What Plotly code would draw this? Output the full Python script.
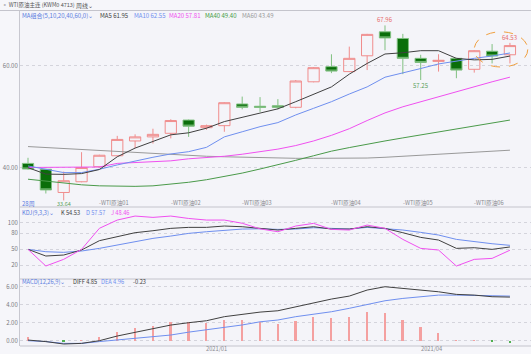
import plotly.graph_objects as go

W, H = 531, 354

# ---------------- data ----------------
weeks = list(range(28))
opens = [40.9, 39.75, 35.2, 37.3, 40.25, 42.4, 45.3, 46.1, 46.8, 49.4, 47.9, 48.3, 52.55, 52.1,
         52.2, 51.9, 56.9, 59.87, 58.9, 62.0, 66.7, 65.4, 61.5, 60.9, 61.5, 59.35, 62.9, 62.2]
highs = [42.0, 39.8, 39.3, 43.1, 42.6, 46.3, 46.6, 47.7, 49.55, 49.5, 48.5, 52.9, 54.0, 53.9,
         53.5, 57.25, 59.8, 62.3, 63.8, 66.3, 67.96, 66.3, 62.2, 62.3, 61.6, 63.1, 64.3, 64.53]
lows = [39.7, 35.0, 33.64, 37.2, 40.1, 42.3, 43.9, 44.8, 45.8, 46.1, 47.5, 47.1, 51.5, 51.0,
        51.5, 51.7, 56.8, 58.6, 58.8, 59.2, 63.1, 58.4, 57.25, 58.9, 57.6, 58.7, 60.5, 60.5]
closes = [39.8, 35.7, 37.5, 40.1, 42.5, 45.6, 46.1, 46.6, 49.3, 48.2, 48.3, 52.8, 51.9, 51.9,
          51.9, 57.06, 59.67, 59.0, 61.5, 66.2, 65.5, 61.5, 60.7, 61.1, 59.2, 63.0, 61.96, 64.0]

ma5 = [40.06, 38.8, 38.75, 38.9, 39.7, 42.2, 43.9, 45.2, 46.5, 46.9, 47.8, 49.1, 49.9, 50.7,
       51.6, 53.0, 54.5, 55.9, 58.4, 60.5, 62.35, 62.6, 63.0, 63.0, 61.5, 61.2, 61.3, 61.95]
ma10 = [40.4, 39.75, 39.1, 39.1, 39.75, 40.6, 41.4, 42.1, 42.75, 43.2, 44.05, 46.1, 47.1, 48.1,
        48.9, 50.4, 51.7, 53.0, 54.5, 55.9, 57.8, 58.6, 59.5, 60.4, 61.0, 61.5, 61.96, 62.55]
ma20 = [40.1, 40.1, 40.1, 40.1, 40.2, 40.9, 41.1, 41.25, 41.4, 41.8, 42.0, 42.3, 42.7, 43.2,
        43.7, 44.4, 45.3, 46.4, 47.7, 49.3, 50.8, 52.0, 53.0, 54.0, 55.0, 56.0, 56.9, 57.81]
ma40 = [37.8, 37.4, 37.0, 36.7, 36.5, 36.4, 36.4, 36.5, 36.8, 37.2, 37.7, 38.3, 39.0, 39.8,
        40.6, 41.5, 42.4, 43.3, 44.0, 44.7, 45.3, 45.9, 46.5, 47.0, 47.6, 48.2, 48.8, 49.4]
ma60 = [44.2, 44.0, 43.8, 43.6, 43.4, 43.2, 43.0, 42.8, 42.6, 42.5, 42.3, 42.2, 42.1, 42.0,
        41.95, 41.9, 41.9, 41.9, 41.9, 41.95, 42.1, 42.3, 42.5, 42.7, 42.9, 43.1, 43.3, 43.49]

k_vals = [50, 37.5, 39.4, 48.8, 66.3, 73.8, 81.3, 85, 89.4, 91.3, 91.3, 93.8, 92.5, 89.4,
          86.3, 89.4, 92.5, 88.1, 88.1, 92.5, 89.4, 81.25, 72.5, 67.5, 51.9, 53.1, 50, 54.53]
d_vals = [50, 45.6, 44.4, 46.9, 51.9, 58.1, 65.6, 70.6, 75, 80, 83.1, 86.3, 88.1, 88.6,
          87.5, 88.1, 90.6, 89.4, 88.1, 91.25, 89.4, 86.3, 81.9, 76.9, 68.75, 64.4, 60.6, 57.57]
j_vals = [50, 18.8, 31.3, 50, 89.5, 105, 112.5, 110, 112.5, 108, 105, 105, 99, 88.5,
          83.1, 93.8, 98.75, 87.5, 86.3, 95.6, 89.4, 68.75, 51.9, 48.75, 18.75, 31.25, 33.1, 48.46]

diff_vals = [0.07, -0.1, -0.37, -0.3, 0.0, 0.52, 0.93, 1.3, 1.74, 2.0, 2.22, 2.67, 2.93, 3.18,
             3.33, 3.78, 4.26, 4.63, 4.96, 5.63, 6.0, 5.81, 5.63, 5.44, 5.15, 5.07, 4.89, 4.85]
dea_vals = [0.0, -0.1, -0.3, -0.3, -0.1, 0.07, 0.26, 0.44, 0.63, 0.95, 1.2, 1.45, 1.75, 2.1,
            2.3, 2.67, 2.96, 3.22, 3.6, 4.04, 4.44, 4.7, 4.89, 5.07, 5.07, 5.07, 5.0, 4.96]
macd_hist = [0.37, 0.0, -0.05, 0.02, 0.37, 1.0, 1.37, 1.63, 2.04, 2.04, 1.93, 2.3, 2.3, 2.05,
             1.85, 2.2, 2.6, 2.55, 2.67, 3.15, 3.04, 2.3, 1.48, 0.81, 0.07, 0.03, -0.1, -0.23]

roll_labels = ["-WTI原油01", "-WTI原油02", "-WTI原油03", "-WTI原油04", "-WTI原油05", "-WTI原油06"]
roll_weeks = [4, 8, 12, 17, 21, 25]
date_labels = ["2021/01", "2021/04"]
date_weeks = [10, 22]

# ---------------- styling ----------------
FONT = "Noto Sans CJK SC, Noto Sans, sans-serif"
RED = "#f08c8c"
GREEN_BODY = "#0a6e0a"
GREEN_WICK = "#80c080"
BLUE = "#5a7ce0"
MAG = "#f050f0"
DARK = "#404040"
GRAY_TXT = "#7a7a80"
BG = "#f4f4f9"


def px(p):
    return p / W


def py(p):
    return 1 - p / H


fig = go.Figure()

fig.add_trace(go.Candlestick(
    x=weeks, open=opens, high=highs, low=lows, close=closes,
    increasing=dict(line=dict(color=RED, width=1), fillcolor="rgba(0,0,0,0)"),
    decreasing=dict(line=dict(color=GREEN_WICK, width=1), fillcolor=GREEN_BODY),
    whiskerwidth=0, xaxis="x", yaxis="y", showlegend=False, hoverinfo="skip"))

for vals, color in [(ma60, "#999999"), (ma40, "#4a9a4a"), (ma20, MAG),
                    (ma10, "#6f8fef"), (ma5, DARK)]:
    fig.add_trace(go.Scatter(x=weeks, y=vals, mode="lines", line=dict(color=color, width=1),
                             xaxis="x", yaxis="y", showlegend=False, hoverinfo="skip"))

for vals, color in [(d_vals, "#6f8fef"), (k_vals, DARK), (j_vals, MAG)]:
    fig.add_trace(go.Scatter(x=weeks, y=vals, mode="lines", line=dict(color=color, width=1),
                             xaxis="x2", yaxis="y2", showlegend=False, hoverinfo="skip"))

fig.add_trace(go.Bar(x=weeks, y=macd_hist, width=0.1,
                     marker=dict(color=["#f4a0a0" if v >= 0 else "#50b050" for v in macd_hist],
                                 line=dict(width=0)),
                     xaxis="x3", yaxis="y3", showlegend=False, hoverinfo="skip"))
for vals, color in [(dea_vals, "#6f8fef"), (diff_vals, DARK)]:
    fig.add_trace(go.Scatter(x=weeks, y=vals, mode="lines", line=dict(color=color, width=1),
                             xaxis="x3", yaxis="y3", showlegend=False, hoverinfo="skip"))

xr = [-0.448, 28.18]
xcommon = dict(domain=[px(20), 1], range=xr, showticklabels=False, showgrid=False,
               zeroline=False, showline=False, ticks="", fixedrange=True)
ycommon = dict(showgrid=True, gridcolor="#d4d4dc", griddash="dot", gridwidth=1, zeroline=False,
               showline=True, linecolor="#c8c8d0", linewidth=1, ticks="",
               tickfont=dict(size=6, color=GRAY_TXT, family=FONT), fixedrange=True)

fig.update_layout(
    width=W, height=H, margin=dict(l=0, r=0, t=0, b=0),
    paper_bgcolor="#f6f6fa", plot_bgcolor=BG, boxgap=0.1,
    font=dict(family=FONT, size=6, color=DARK),
    bargap=0,
    xaxis=dict(**xcommon, anchor="y", rangeslider=dict(visible=False)),
    xaxis2=dict(**xcommon, anchor="y2", matches="x"),
    xaxis3=dict(**xcommon, anchor="y3", matches="x"),
    yaxis=dict(**ycommon, domain=[py(207), py(10)], range=[32.35, 70.98],
               tickvals=[40, 60], ticktext=["40.00", "60.00"]),
    yaxis2=dict(**ycommon, domain=[py(279), py(207)], range=[-5.6, 129.5],
                tickvals=[20, 50, 80, 100], ticktext=["20", "50", "80", "100"]),
    yaxis3=dict(**ycommon, domain=[py(346), py(279)], range=[-0.59, 6.86],
                tickvals=[0, 2, 4, 6], ticktext=["0.00", "2.00", "4.00", "6.00"]),
)

# panel separators
shapes = []
for yy, x0 in [(10.5, 0), (207, px(20)), (279, px(20)), (346, px(20))]:
    shapes.append(dict(type="line", xref="paper", yref="paper", x0=x0, x1=1,
                       y0=py(yy), y1=py(yy), line=dict(color="#c4c4cc", width=1)))
# highlight ellipse round the last candles
n = len(weeks)
shapes.append(dict(type="circle", xref="x", yref="y", x0=n - 3.0, x1=n + 0.0,
                   y0=59.8, y1=66.7, line=dict(color="#f0a040", width=1, dash="dash")))
fig.update_layout(shapes=shapes)

ann = []


def txt(x, y, s, color, size=6, xanchor="left"):
    ann.append(dict(xref="paper", yref="paper", x=px(x), y=py(y), text=s, showarrow=False,
                    xanchor=xanchor, yanchor="middle", borderpad=0,
                    font=dict(size=size, color=color, family=FONT)))


# header rows
txt(1, 5, "◦ WTI原油主连 (KWM0 4713)", "#555555", 5.5)
txt(75, 5, "周线⌄", "#555555", 6)
for s, c, x in [("MA组合(5,10,20,40,60,0)⌄", BLUE, 21), ("MA5 61.95", DARK, 99),
                ("MA10 62.55", "#6f8fef", 133), ("MA20 57.81", MAG, 168),
                ("MA40 49.40", "#3f9a3f", 204), ("MA60 43.49", "#999999", 241)]:
    txt(x, 15.5, s, c)
for s, c, x in [("KDJ(9,3,3)⌄", BLUE, 21), ("K 54.53", DARK, 60),
                ("D 57.57", "#6f8fef", 85), ("J 48.46", MAG, 110)]:
    txt(x, 213, s, c, 5.7)
for s, c, x in [("MACD(12,26,9)⌄", BLUE, 21), ("DIFF 4.85", DARK, 72),
                ("DEA 4.96", "#6f8fef", 100), ("-0.23", DARK, 132)]:
    txt(x, 281.8, s, c, 5.7)
txt(20.5, 203, "28周", BLUE, 6)

# contract roll markers
for w, s in zip(roll_weeks, roll_labels):
    ann.append(dict(xref="x", yref="paper", x=w, y=py(202), text=s, showarrow=False,
                    xanchor="left", yanchor="middle", xshift=-1, borderpad=0,
                    font=dict(size=5.7, color="#8a8a90", family=FONT)))
# date labels
for w, s in zip(date_weeks, date_labels):
    ann.append(dict(xref="x3", yref="paper", x=w, y=py(353.8), text=s, showarrow=False,
                    xanchor="left", yanchor="bottom", xshift=-1, borderpad=0,
                    font=dict(size=5.7, color="#8a8a90", family=FONT)))

# extreme value labels
imax = highs.index(max(highs))
imin = lows.index(min(lows))
lab = dict(showarrow=False, borderpad=0)
ann.append(dict(xref="x", yref="y", x=imax, y=highs[imax], text=f"{highs[imax]:.2f}",
                yanchor="bottom", font=dict(size=6, color="#e86a6a", family=FONT), **lab))
ann.append(dict(xref="x", yref="y", x=n - 1, y=highs[-1], text=f"{highs[-1]:.2f}",
                yanchor="bottom", font=dict(size=6, color="#e86a6a", family=FONT), **lab))
ann.append(dict(xref="x", yref="y", x=imin, y=lows[imin], text=f"{lows[imin]:.2f}",
                yanchor="top", yshift=1.5, font=dict(size=5.5, color="#5aa05a", family=FONT), **lab))
i2 = 22
ann.append(dict(xref="x", yref="y", x=i2, y=lows[i2], text=f"{lows[i2]:.2f}",
                yanchor="top", font=dict(size=6, color="#5aa05a", family=FONT), **lab))

fig.update_layout(annotations=ann)

fig.write_html("out.html")
